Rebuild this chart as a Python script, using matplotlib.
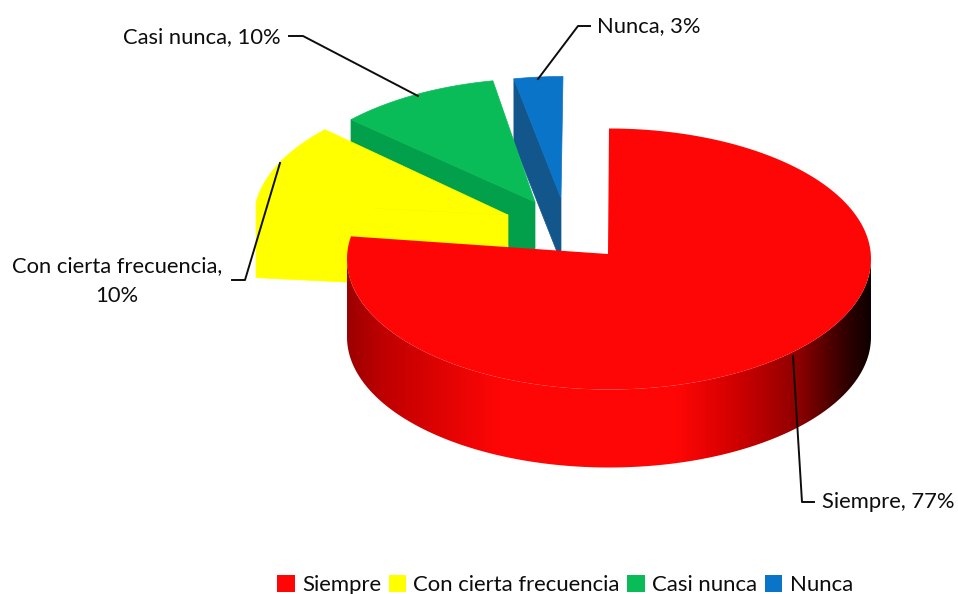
import numpy as np
import matplotlib
matplotlib.use('Agg')
import matplotlib.pyplot as plt
from matplotlib.colors import LinearSegmentedColormap
from matplotlib.patches import Patch, Polygon

plt.rcParams['font.family'] = ['Lato', 'DejaVu Sans']

categories = ['Siempre', 'Con cierta frecuencia', 'Casi nunca', 'Nunca']
percent = [77, 10, 10, 3]

# look of the slices
top_colors = ['#ff0606', '#ffff00', '#0abc58', '#0a75c8']
wall_colors = ['#ff0606', '#ffff00', '#02a04a', '#13568c']
centers = [(609, 259), (516, 219), (542, 209), (563, 207)]
apexes = [(608, 254), (508, 215), (535, 202), (561, 198)]
depths = [78, 75, 78, 64]
RX, RY = 262, 130.5
RED_END_SKEW = 2.8  # perspective pulls the end of the big slice up a little
LABEL_SIZE = 15.8
TEXT_COLOR = '#0d0d0d'

# shading along the front wall of the big slice
shade_pos = [0, 0.07, 0.29, 0.63, 0.74, 0.86, 0.955, 1]
shade_col = ['#9c0000', '#c00000', '#ff0606', '#ff0606', '#d20000', '#900000', '#300000', '#100000']


def arc(center, start, stop, shift=0):
    t = np.radians(np.linspace(start, stop, 200))
    return np.column_stack([center[0] + RX * np.sin(t), center[1] - RY * np.cos(t) + shift])


fig = plt.figure(figsize=(9.58, 5.94), dpi=100)
ax = fig.add_axes([0, 0, 1, 1])

edges = np.concatenate([[0], np.cumsum(percent)]) * 3.6

# back slices first, the red one covers them
for i in [3, 2, 1]:
    start, stop = edges[i], edges[i + 1]
    rim = arc(centers[i], start, start + 0.001)[0]
    apex = np.array(apexes[i])
    down = np.array([0, depths[i]])
    ax.add_patch(Polygon([rim, apex, apex + down, rim + down], closed=True,
                         fc=wall_colors[i], ec=wall_colors[i], lw=0.5, zorder=2 + (3 - i)))
    top = np.vstack([[apex], arc(centers[i], start, stop)])
    ax.add_patch(Polygon(top, closed=True, fc=top_colors[i], ec=top_colors[i], lw=0.5, zorder=2 + (3 - i)))

# big slice: front wall with gradient, then the top
red_end = edges[1] + RED_END_SKEW
front_top = arc(centers[0], 90, 270)
front_bottom = arc(centers[0], 90, 270, depths[0])
wall = Polygon(np.vstack([front_top, front_bottom[::-1]]), closed=True, fc='none', ec='none', zorder=6)
ax.add_patch(wall)
cmap = LinearSegmentedColormap.from_list('wall', list(zip(shade_pos, shade_col)))
grad = np.linspace(0, 1, 512).reshape(1, -1)
im = ax.imshow(grad, cmap=cmap, aspect='auto', zorder=6, interpolation='bilinear',
               extent=(centers[0][0] - RX, centers[0][0] + RX, 600, 100))
im.set_clip_path(wall)
top = np.vstack([[apexes[0]], arc(centers[0], edges[0], red_end)])
ax.add_patch(Polygon(top, closed=True, fc=top_colors[0], ec='none', zorder=7))

# data labels with their leader lines
ax.plot([814, 802, 793], [502, 502, 356], color='#0d0d0d', lw=1.4, zorder=8)
ax.plot([289, 303, 418], [36, 36, 96], color='#0d0d0d', lw=1.4, zorder=8)
ax.plot([590, 578, 538], [26, 26, 79], color='#0d0d0d', lw=1.4, zorder=8)
ax.plot([232, 245, 280], [280, 280, 163], color='#0d0d0d', lw=1.4, zorder=8)

ax.text(822, 502, f'{categories[0]}, {percent[0]}%', fontsize=LABEL_SIZE, color=TEXT_COLOR, va='center', ha='left')
ax.text(117, 281, f'{categories[1]},\n{percent[1]}%', fontsize=LABEL_SIZE, color=TEXT_COLOR, va='center', ha='center',
        linespacing=1.6)
ax.text(281, 37, f'{categories[2]}, {percent[2]}%', fontsize=LABEL_SIZE, color=TEXT_COLOR, va='center', ha='right')
ax.text(597, 26, f'{categories[3]}, {percent[3]}%', fontsize=LABEL_SIZE, color=TEXT_COLOR, va='center', ha='left')

handles = [Patch(fc=c, ec='none', label=n) for c, n in zip(top_colors, categories)]
ax.legend(handles=handles, ncols=4, loc='center', bbox_to_anchor=(565 / 958, 1 - 585 / 594),
          frameon=False, fontsize=15.9, handlelength=0.8, handleheight=0.8, handletextpad=0.33,
          columnspacing=0.33, borderpad=0, borderaxespad=0, labelcolor=TEXT_COLOR)

ax.set_xlim(0, 958)
ax.set_ylim(594, 0)
ax.axis('off')

plt.savefig('out.png', dpi=100)
